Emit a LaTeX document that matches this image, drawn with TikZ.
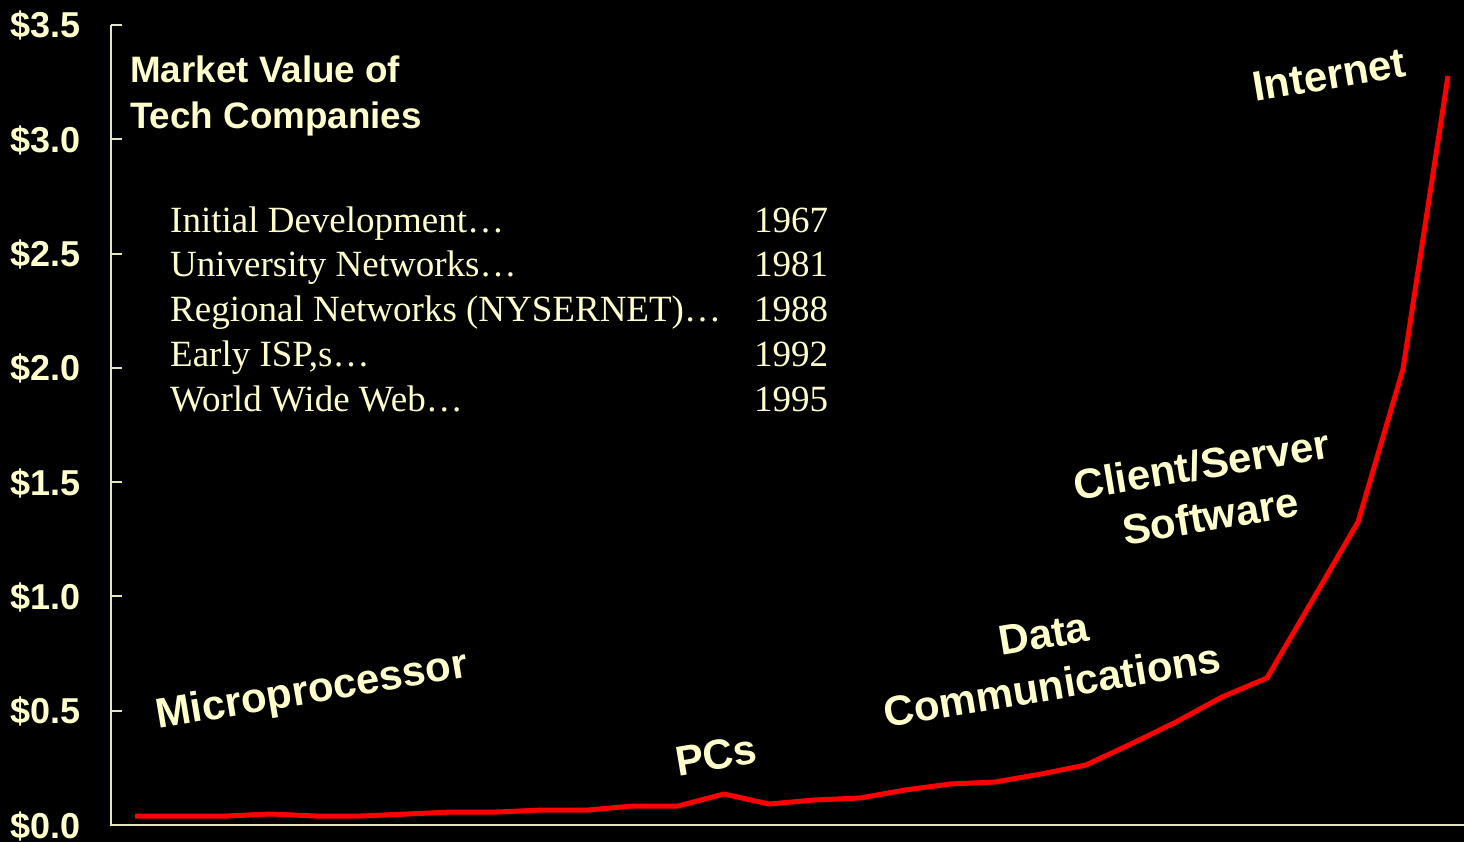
\documentclass[tikz,border=0pt]{standalone}
\usepackage{fontspec}
\setmainfont{Liberation Serif}
\newfontfamily\arialfont{Liberation Sans}
\definecolor{cream}{RGB}{255,255,204}
\definecolor{axiscol}{RGB}{230,230,190}
\begin{document}
\begin{tikzpicture}[x=1bp,y=-1bp,
  ticklbl/.style={anchor=base east,inner sep=0,text=cream,font=\arialfont\bfseries\fontsize{36bp}{44bp}\selectfont},
  titlelbl/.style={anchor=base west,inner sep=0,text=cream,font=\arialfont\bfseries\fontsize{36.8bp}{44bp}\selectfont},
  listlbl/.style={anchor=base west,inner sep=0,text=cream,font=\fontsize{37bp}{44bp}\selectfont},
  eralbl/.style={inner sep=0,text=cream,rotate=9.5,align=center,font=\arialfont\bfseries\fontsize{42bp}{52bp}\selectfont},
  axisline/.style={draw=axiscol,line width=2bp},
  trend/.style={draw=red,line width=5bp,line join=round}]
\useasboundingbox[fill=black] (0,0) rectangle (1464,842);
% axes
\coordinate (top) at (111,25);
\coordinate (origin) at (111,825);
\coordinate (xend) at (1464,825);
\draw[axisline] (top) -- (origin) -- (xend);
\foreach \v/\lab in {0/0.0,1/0.5,2/1.0,3/1.5,4/2.0,5/2.5,6/3.0,7/3.5}{
  \pgfmathsetmacro{\yy}{825-114.3*\v}
  \draw[axisline] (111,\yy) -- (122,\yy);
  \node[ticklbl] (t\v) at (81,\yy+13) {\$\lab};
}
% title
\node[titlelbl] (title1) at (130,82) {Market Value of};
\node[titlelbl] (title2) at (130,128) {Tech Companies};
% list
\node[listlbl] (l1) at (170,232) {Initial Development\ldots};
\node[listlbl] (l2) at (170,276) {University Networks\ldots};
\node[listlbl] (l3) at (170,321) {Regional Networks (NYSERNET)\ldots};
\node[listlbl] (l4) at (170,366) {Early ISP,s\ldots};
\node[listlbl] (l5) at (170,411) {World Wide Web\ldots};
\node[listlbl] (y1) at (754,232) {1967};
\node[listlbl] (y2) at (754,276) {1981};
\node[listlbl] (y3) at (754,321) {1988};
\node[listlbl] (y4) at (754,366) {1992};
\node[listlbl] (y5) at (754,411) {1995};
% trend line
\draw[trend] plot coordinates {
 (135,816) (180,816) (226,816) (271,814) (316,816) (361,816) (407,814)
 (452,812) (497,812) (543,810) (588,810) (633,806) (678,806) (724,794)
 (769,804) (814,800) (860,798) (905,790) (950,784) (995,782) (1041,774)
 (1086,765) (1131,744) (1176,722) (1222,697) (1267,678) (1312,601)
 (1358,522) (1403,369) (1448,76)};
% era labels
\node[eralbl] (micro) at (312,692) {Microprocessor};
\node[eralbl] (pcs) at (716,755) {PCs};
\node[eralbl] (data) at (1048,660) {Data\\Communications};
\node[eralbl] (cs) at (1206,490) {Client/Server\\Software};
\node[eralbl] (inet) at (1329,75) {Internet};
\end{tikzpicture}
\end{document}
